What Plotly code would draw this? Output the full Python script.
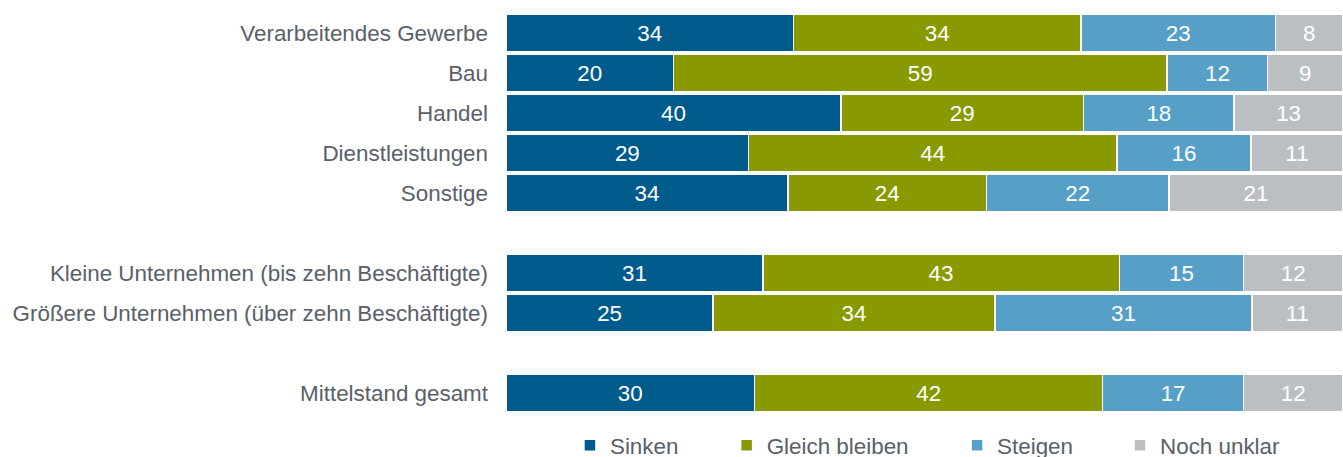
import plotly.graph_objects as go

categories = [
    "Verarbeitendes Gewerbe",
    "Bau",
    "Handel",
    "Dienstleistungen",
    "Sonstige",
    "Kleine Unternehmen (bis zehn Beschäftigte)",
    "Größere Unternehmen (über zehn Beschäftigte)",
    "Mittelstand gesamt",
]
sinken = [34, 20, 40, 29, 34, 31, 25, 30]
gleich = [34, 59, 29, 44, 24, 43, 34, 42]
steigen = [23, 12, 18, 16, 22, 15, 31, 17]
unklar = [8, 9, 13, 11, 21, 12, 11, 12]

series_names = ["Sinken", "Gleich bleiben", "Steigen", "Noch unklar"]
series_values = [sinken, gleich, steigen, unklar]
colors = ["#005B8D", "#889A00", "#56A0C8", "#BCBFC2"]

# category order with spacer rows between groups
category_order = categories[:5] + [" "] + categories[5:7] + ["  "] + categories[7:]

legend_x = [0.0764, 0.2636, 0.5389, 0.7336]

font_family = "Liberation Sans, Arial, sans-serif"
text_gray = "#5A6068"
fs = 22.4

fig = go.Figure()
for i, (name, vals, col) in enumerate(zip(series_names, series_values, colors)):
    fig.add_trace(go.Bar(
        y=categories,
        x=vals,
        name=name,
        orientation="h",
        marker=dict(color=col, line=dict(color="white", width=1.5)),
        text=[str(v) for v in vals],
        texttemplate="%{text}",
        textposition="inside",
        insidetextanchor="middle",
        textfont=dict(color="white", size=fs, family=font_family),
        hoverinfo="skip",
        legend="legend" if i == 0 else f"legend{i+1}",
    ))

legend_common = dict(
    orientation="h",
    yanchor="middle",
    xanchor="left",
    y=-0.082,
    font=dict(size=fs, color=text_gray, family=font_family),
    bgcolor="rgba(0,0,0,0)",
    itemwidth=30,
    tracegroupgap=0,
)

fig.update_layout(
    barmode="stack",
    barnorm="percent",
    bargap=0.05,
    width=1343,
    height=457,
    margin=dict(l=506, r=0, t=13, b=44, autoexpand=False),
    paper_bgcolor="white",
    plot_bgcolor="white",
    font=dict(family=font_family, size=fs, color=text_gray),
    showlegend=True,
    uniformtext=dict(minsize=10, mode="show"),
    xaxis=dict(range=[0, 100], visible=False, fixedrange=True),
    yaxis=dict(
        categoryorder="array",
        categoryarray=category_order,
        autorange="reversed",
        showgrid=False,
        zeroline=False,
        showline=False,
        ticks="",
        ticklabelstandoff=17,
        tickfont=dict(size=fs, color=text_gray, family=font_family),
    ),
    legend=dict(x=legend_x[0], **legend_common),
    legend2=dict(x=legend_x[1], **legend_common),
    legend3=dict(x=legend_x[2], **legend_common),
    legend4=dict(x=legend_x[3], **legend_common),
)

fig.write_html(
    "out.html",
    config={"displayModeBar": False},
    post_script="document.body.style.margin='0';document.body.style.overflow='hidden';",
)
